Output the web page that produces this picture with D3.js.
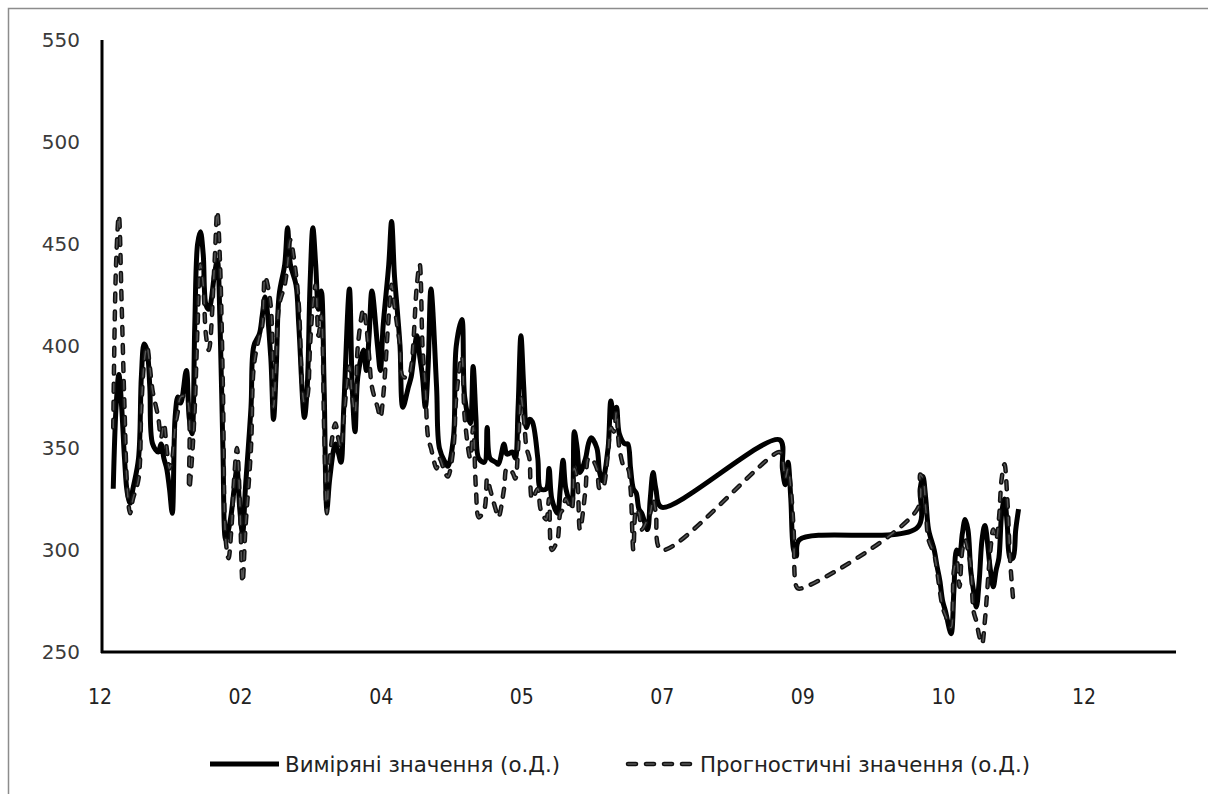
<!DOCTYPE html>
<html>
<head>
<meta charset="utf-8">
<script src="https://cdn.jsdelivr.net/npm/d3@7"></script>
<style>
  body { margin: 0; background: #fff; }
  svg { display: block; }
</style>
</head>
<body>
<script>
// series: day offset from start date, measured and predicted values (o.D.)
const startDate = new Date(2012, 11, 25)
const days = [4,5,6,7,8,9,10,11,13,14, 15,16,17,18,20,21,22,23,24,25, 26,27,28,30,31,32,33,34,35,36,
  37,38,40,41,42,43,44,45,46,47, 48,49,50,51,53,54,56,57,58,60, 61,62,63,65,66,67,69,70,72,73,
  74,75,76,77,78,79,80,81,83,84, 85,86,88,89,90,91,93,94,95,96, 98,99,100,102,103,104,105,106,107,109,
  110,112,113,114,115,116,117,119,120,122, 123,125,126,128,129,131,132,133,134,136, 137,138,140,141,143,144,146,147,148,149,
  150,151,152,153,155,156,158,159,160,162, 163,164,165,167,168,169,170,172,173,174, 176,177,178,180,181,182,183,184,186,187,
  188,189,190,191,192,194,195,196,197,199, 241,242,243,244,245,246,247,248,290,291, 292,293,294,296,297,298,299,300,302,303,
  304,305,306,307,308,309,310,311,312,313, 314,316,317,318,319,320,321,322,323,324, 325,326]
const measured = [330,370,386,370,345,328,323,330,345,385, 401,398,380,352,348,352,345,340,330,318, 365,375,372,388,365,357,410,450,456,445,
  420,418,435,442,410,350,305,310,318,330, 340,320,308,330,370,400,406,415,424,395, 364,390,425,440,458,440,430,410,365,380,
  430,458,440,418,427,380,320,335,352,348, 343,370,428,380,358,385,398,388,405,427, 400,388,410,440,461,435,418,400,370,380,
  385,405,395,385,370,390,428,380,350,343, 341,355,400,413,375,362,390,365,345,343, 360,345,343,342,352,347,348,345,370,405,
  380,360,364,363,345,330,330,340,325,318, 330,344,330,322,358,350,338,345,352,355, 350,338,334,350,373,365,370,357,352,352,
  340,330,328,320,318,310,325,338,330,321, 354,340,332,343,325,300,297,305,311,330, 336,325,310,300,292,285,275,270,259,280,
  300,298,308,315,310,290,280,272,285,305, 312,290,282,290,296,318,325,312,296,296, 310,320]
const predicted = [360,440,464,420,370,330,318,325,335,370, 392,400,390,378,365,355,362,350,340,345, 360,368,375,375,330,345,370,410,440,430,
  405,398,440,466,440,380,305,296,310,335, 350,325,284,310,350,390,405,410,434,420, 370,395,420,430,440,452,435,420,372,375,
  400,420,430,405,415,360,318,345,362,355, 350,365,390,375,367,400,418,410,395,380, 370,365,375,415,430,420,410,400,385,385,
  390,430,440,400,380,355,350,340,345,338, 336,350,375,395,365,345,360,330,316,320, 335,330,320,316,330,340,338,335,350,375,
  365,350,345,325,330,320,315,325,300,305, 318,320,325,320,340,335,310,330,345,345, 340,330,330,348,360,358,368,350,340,340,
  330,300,320,318,310,315,318,325,318,300, 348,345,335,340,330,310,282,281,320,337, 335,320,305,298,290,280,272,268,262,290,
  295,282,300,305,300,292,270,265,258,254, 265,300,310,305,315,335,342,325,295,277, null,null]
const yTicks = [250,300,350,400,450,500,550]
const tickStep = 50   // days between x-axis labels
const totalDays = 382
const legendLabels = ['Виміряні значення (о.Д.)', 'Прогностичні значення (о.Д.)']

const W = 1208, H = 794
const svg = d3.select('body').append('svg').attr('width', W).attr('height', H)

// chart frame
svg.append('rect')
  .attr('x', 8.5).attr('y', 8.5)
  .attr('width', W + 20).attr('height', H + 20)
  .attr('fill', 'none').attr('stroke', '#8c8c8c').attr('stroke-width', 1.5)

const x = d3.scaleTime()
  .domain([startDate, d3.timeDay.offset(startDate, totalDays)])
  .range([102, 1176])
const y = d3.scaleLinear().domain([250, 550]).range([652, 40])

const toDate = d => d3.timeDay.offset(startDate, d)
const xTicks = d3.range(0, 8).map(i => toDate(i * tickStep))

// y labels
svg.append('g')
  .selectAll('text')
  .data(yTicks)
  .join('text')
  .attr('x', 80)
  .attr('y', d => y(d) + 7)
  .attr('text-anchor', 'end')
  .attr('font-family', 'DejaVu Sans, sans-serif')
  .attr('font-size', 20)
  .attr('fill', '#3a3a3a')
  .text(d => d)

// x labels
svg.append('g')
  .selectAll('text')
  .data(xTicks)
  .join('text')
  .attr('x', d => x(d) - 2)
  .attr('y', 704)
  .attr('text-anchor', 'middle')
  .attr('font-family', "'Liberation Sans Narrow', 'DejaVu Sans Condensed', sans-serif")
  .attr('font-size', 21)
  .attr('fill', '#222')
  .text(d3.timeFormat('%m'))

// axes lines
svg.append('line').attr('x1', 102).attr('x2', 102).attr('y1', 40).attr('y2', 653)
  .attr('stroke', '#000').attr('stroke-width', 3)
svg.append('line').attr('x1', 101).attr('x2', 1176).attr('y1', 652).attr('y2', 652)
  .attr('stroke', '#000').attr('stroke-width', 3)

const rows = days.map((d, i) => ({date: toDate(d), m: measured[i], p: predicted[i]}))

const lineM = d3.line()
  .x(d => x(d.date)).y(d => y(d.m))
  .curve(d3.curveCatmullRom.alpha(0.5))
const lineP = d3.line()
  .defined(d => d.p != null)
  .x(d => x(d.date)).y(d => y(d.p))
  .curve(d3.curveCatmullRom.alpha(0.5))

svg.append('path')
  .attr('d', lineM(rows))
  .attr('fill', 'none').attr('stroke', '#000')
  .attr('stroke-width', 5).attr('stroke-linejoin', 'round')

// dashed series: dark outline with grey core
const dash = '8,10'
svg.append('path')
  .attr('d', lineP(rows))
  .attr('fill', 'none').attr('stroke', '#111')
  .attr('stroke-width', 4.5).attr('stroke-dasharray', dash)
  .attr('stroke-linecap', 'round')
svg.append('path')
  .attr('d', lineP(rows))
  .attr('fill', 'none').attr('stroke', '#555')
  .attr('stroke-width', 1.5).attr('stroke-dasharray', dash)
  .attr('stroke-linecap', 'round')

// legend
const lg = svg.append('g')
lg.append('line').attr('x1', 210).attr('x2', 279).attr('y1', 764).attr('y2', 764)
  .attr('stroke', '#000').attr('stroke-width', 5)
lg.append('line').attr('x1', 628).attr('x2', 694).attr('y1', 764).attr('y2', 764)
  .attr('stroke', '#111').attr('stroke-width', 4.5).attr('stroke-dasharray', dash).attr('stroke-linecap', 'round')
lg.append('line').attr('x1', 628).attr('x2', 694).attr('y1', 764).attr('y2', 764)
  .attr('stroke', '#555').attr('stroke-width', 1.5).attr('stroke-dasharray', dash).attr('stroke-linecap', 'round')
lg.selectAll('text')
  .data(legendLabels)
  .join('text')
  .attr('x', (d, i) => i === 0 ? 285 : 700)
  .attr('y', 772)
  .attr('font-family', "'Liberation Sans Narrow', 'DejaVu Sans Condensed', sans-serif")
  .attr('font-size', 21)
  .attr('fill', '#222')
  .attr('textLength', (d, i) => i === 0 ? 275 : 330)
  .attr('lengthAdjust', 'spacingAndGlyphs')
  .text(d => d)
</script>
</body>
</html>
